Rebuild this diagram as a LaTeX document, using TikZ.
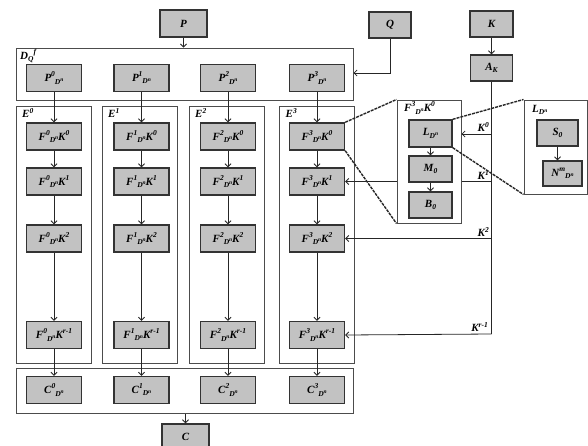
\documentclass[tikz,border=0pt]{standalone}
\usepackage{fontspec}
\setmainfont{Liberation Serif}
\usetikzlibrary{arrows.meta}
\newcommand\hi[1]{\raisebox{0.42em}{\fontsize{7.5}{8}\selectfont #1}}
\newcommand\lo[1]{\raisebox{-0.22em}{\fontsize{7.5}{8}\selectfont #1}}
\newcommand\nn[1]{\raisebox{0.35em}{\fontsize{5.5}{6}\selectfont #1}}
\begin{document}
\begin{tikzpicture}[x=1pt,y=-1pt,
  gbox/.style={draw=black!80,fill=black!24,line width=1.4pt,minimum width=55pt,minimum height=27pt,inner sep=0pt,font=\fontsize{11}{12}\selectfont\bfseries\itshape},
  cont/.style={draw=black!70,line width=1pt,inner sep=0pt},
  arr/.style={-{Straight Barb[length=3pt,width=6pt]},line width=0.8pt,draw=black!85},
  conn/.style={line width=1.4pt,dash pattern=on 3pt off 1pt,draw=black!85},
  lab/.style={font=\fontsize{11}{12}\selectfont\bfseries\itshape,inner sep=0pt}]
\clip (0,0) rectangle (588,445);
\fill[white] (0,0) rectangle (588,445);
% top sources
\node[gbox,minimum width=47pt] (P) at (183.5,23.5) {P};
\node[gbox,minimum width=42pt,minimum height=26pt] (Q) at (390,25) {Q};
\node[gbox,minimum width=43pt,minimum height=26pt] (K) at (491.5,24) {K};
\node[gbox,minimum width=42pt,minimum height=26pt] (AK) at (491.5,68) {A\lo{K}};
\draw[arr] (K) -- (AK);
% D container
\node[cont,minimum width=337pt,minimum height=52pt] (D) at (184.5,74) {};
\node[lab,anchor=west] at (20,56) {D\lo{Q}\hi{f}};
\draw[arr] (P.south) -- (P.south |- D.north);
\coordinate (qc) at (Q.south |- 0,73);
\draw[arr] (Q.south) -- (qc) -- (qc -| D.east);
% C container
\node[cont,minimum width=337pt,minimum height=45pt] (Cb) at (184.5,390.5) {};
\node[gbox,minimum width=47pt,minimum height=26pt] (C) at (185.5,437) {C};
\draw[arr] (Cb.south -| C.north) -- (C.north);
% columns
\foreach \i/\x/\ex in {0/54/53.5,1/141.5/139.5,2/228/226.5,3/317/317}{
  \node[gbox] (P\i) at (\x,78) {P\hi{\i}\lo{D\nn{n}}};
  \node[cont,minimum width=75pt,minimum height=257pt] (E\i) at (\ex,234.5) {};
  \node[lab,anchor=west] at (\ex-31.5,113) {E\hi{\i}};
  \node[gbox] (F\i a) at (\x,136.5) {F\hi{\i}\lo{D\nn{n}}K\hi{0}};
  \node[gbox] (F\i b) at (\x,181.5) {F\hi{\i}\lo{D\nn{n}}K\hi{1}};
  \node[gbox] (F\i c) at (\x,238.5) {F\hi{\i}\lo{D\nn{n}}K\hi{2}};
  \node[gbox] (F\i d) at (\x,335) {F\hi{\i}\lo{D\nn{n}}K\hi{r-1}};
  \node[gbox] (C\i) at (\x,390) {C\hi{\i}\lo{D\nn{n}}};
  \draw[arr] (P\i) -- (F\i a);
  \draw[arr] (F\i a) -- (F\i b);
  \draw[arr] (F\i b) -- (F\i c);
  \draw[arr] (F\i c) -- (F\i d);
  \draw[arr] (F\i d) -- (C\i);
}
% key lines
\coordinate (kb) at (491.5,334);
\coordinate (k0) at (491.5,134);
\draw[line width=0.8pt,draw=black!85] (AK.south) -- (kb);
\draw[arr] (kb) -- (F3d.east);
\draw[arr] (AK.south |- F3b.east) -- (F3b.east);
\draw[arr] (AK.south |- F3c.east) -- (F3c.east);
% detail of F3 K0
\node[cont,fill=white,minimum width=64pt,minimum height=123pt] (Det) at (429,161.5) {};
\node[lab,anchor=west] at (404,108) {F\hi{3}\lo{D\nn{n}}K\hi{0}};
\node[gbox,minimum width=43pt] (L) at (430.5,133.5) {L\lo{D\nn{n}}};
\node[gbox,minimum width=43pt,minimum height=26pt] (M) at (430.5,169) {M\lo{0}};
\node[gbox,minimum width=43pt,minimum height=26pt] (B) at (430.5,205) {B\lo{0}};
\draw[arr] (L) -- (M);
\draw[arr] (M) -- (B);
\draw[arr] (k0) -- (k0 -| Det.east);
% detail of L
\node[cont,fill=white,minimum width=63pt,minimum height=94pt] (Ld) at (555.5,147) {};
\node[lab,anchor=west] at (532,110) {L\lo{D\nn{n}}};
\node[gbox,minimum width=41pt,minimum height=26pt] (S) at (557.5,133) {S\lo{0}};
\node[gbox,minimum width=39pt,minimum height=25pt] (N) at (562.5,173.5) {N\hi{m}\lo{D\nn{n}}};
\draw[arr] (S.south) -- (S.south |- N.north);
% key labels
\node[lab,anchor=south east] at (489,132) {K\hi{0}};
\node[lab,anchor=south east] at (489,180) {K\hi{1}};
\node[lab,anchor=south east] at (489,237) {K\hi{2}};
\node[lab,anchor=south east] at (488,332) {K\hi{r-1}};
% zoom connectors
\draw[conn] (F3a.north east) -- (Det.north west);
\draw[conn] (F3a.south east) -- (Det.south west);
\draw[conn] (L.north east) -- (Ld.north west);
\draw[conn] (L.south east) -- (Ld.south west);
\end{tikzpicture}
\end{document}
